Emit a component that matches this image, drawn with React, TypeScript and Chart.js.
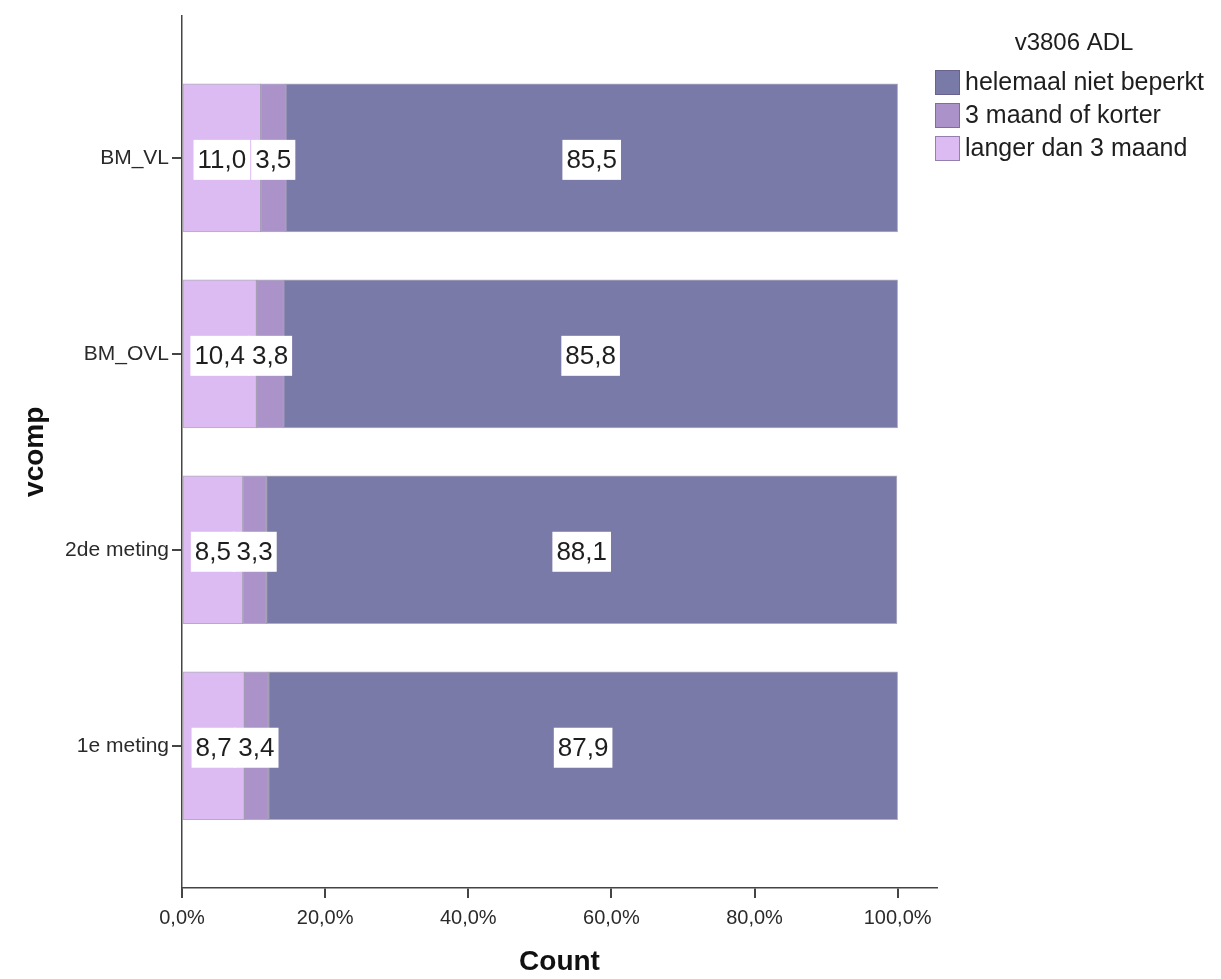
import React, { useEffect, useRef } from 'react';
import { Chart, registerables } from 'chart.js';

Chart.register(...registerables);

// ---- data ----
const categories = ['BM_VL', 'BM_OVL', '2de meting', '1e meting'];
const seriesNames = ['langer dan 3 maand', '3 maand of korter', 'helemaal niet beperkt'];
const langerDan3 = [11.0, 10.4, 8.5, 8.7];
const maand3OfKorter = [3.5, 3.8, 3.3, 3.4];
const helemaalNiet = [85.5, 85.8, 88.1, 87.9];
const xTickValues = [0, 20, 40, 60, 80, 100];
const legendTitle = 'v3806 ADL';
const yTitle = 'vcomp';
const xTitle = 'Count';

const seriesColors = ['#dcbaf2', '#ab92c9', '#7a7aa9'];
const FONT = '"Liberation Sans", Arial, sans-serif';

const fmt = (v: number) => v.toFixed(1).replace('.', ',');

const segLabels = {
  id: 'segLabels',
  afterDatasetsDraw(chart: any) {
    const ctx = chart.ctx;
    ctx.save();
    ctx.font = `26px ${FONT}`;
    ctx.textAlign = 'center';
    ctx.textBaseline = 'middle';
    chart.data.datasets.forEach((ds: any, di: number) => {
      const meta = chart.getDatasetMeta(di);
      meta.data.forEach((el: any, i: number) => {
        const v = ds.data[i].x;
        const { x, y, base } = el.getProps(['x', 'y', 'base'], true);
        const cx = (x + base) / 2;
        const txt = fmt(v);
        const w = ctx.measureText(txt).width + 8;
        const h = 40;
        ctx.fillStyle = '#ffffff';
        ctx.fillRect(cx - w / 2, y - h / 2 + 2, w, h);
        ctx.fillStyle = '#1e1e1e';
        ctx.fillText(txt, cx, y + 3);
      });
    });
    ctx.restore();
  },
};

const sideLegend = {
  id: 'sideLegend',
  afterDraw(chart: any) {
    const ctx = chart.ctx;
    const left = chart.chartArea.right - 2;
    ctx.save();
    ctx.fillStyle = '#1e1e1e';
    ctx.font = `24px ${FONT}`;
    ctx.textAlign = 'center';
    ctx.textBaseline = 'middle';
    ctx.fillText(legendTitle, left + 139, 43);
    ctx.textAlign = 'left';
    ctx.font = `25px ${FONT}`;
    const n = chart.data.datasets.length;
    for (let k = 0; k < n; k++) {
      const di = n - 1 - k;
      const ds = chart.data.datasets[di];
      const top = 70 + k * 33;
      ctx.fillStyle = ds.backgroundColor;
      ctx.fillRect(left, top, 25, 25);
      ctx.strokeStyle = 'rgba(90,80,120,0.55)';
      ctx.lineWidth = 1;
      ctx.strokeRect(left + 0.5, top + 0.5, 24, 24);
      ctx.fillStyle = '#1e1e1e';
      ctx.fillText(ds.label, left + 30, top + 13);
    }
    ctx.restore();
  },
};

export default function App() {
  const ref = useRef<HTMLCanvasElement>(null);

  useEffect(() => {
    document.body.style.margin = '0';
    const canvas = ref.current;
    if (!canvas) return;
    const series = [langerDan3, maand3OfKorter, helemaalNiet];
    const chart = new Chart(canvas, {
      type: 'bar',
      data: {
        datasets: series.map((vals, si) => ({
          label: seriesNames[si],
          data: vals.map((v, i) => ({ x: v, y: i })),
          backgroundColor: seriesColors[si],
          borderColor: 'rgba(85,75,115,0.45)',
          borderWidth: 1,
          borderSkipped: false,
          barThickness: 148,
        })),
      },
      options: {
        indexAxis: 'y',
        animation: false,
        responsive: false,
        devicePixelRatio: 1,
        layout: { padding: { top: 13, right: 284, bottom: 0, left: 0 } },
        plugins: {
          legend: { display: false },
          tooltip: { enabled: false },
        },
        scales: {
          x: {
            type: 'linear',
            stacked: true,
            min: 0,
            max: 105.5,
            afterBuildTicks: (scale: any) => {
              scale.ticks = xTickValues.map((v) => ({ value: v }));
            },
            afterFit: (scale: any) => {
              scale.height = 91;
            },
            border: { display: true, color: '#444', width: 1.5 },
            grid: { drawOnChartArea: false, drawTicks: true, tickLength: 10, color: '#444', lineWidth: 2 },
            ticks: {
              autoSkip: false,
              maxRotation: 0,
              padding: 8,
              color: '#2a2a2a',
              font: { family: FONT, size: 20 },
              callback: (v: any) => fmt(Number(v)) + '%',
            },
            title: {
              display: true,
              text: xTitle,
              color: '#111',
              font: { family: FONT, size: 28, weight: 'bold' },
              padding: { top: 0, bottom: 0 },
            },
          },
          y: {
            type: 'linear',
            stacked: true,
            reverse: true,
            offset: false,
            min: -0.726,
            max: 3.726,
            afterBuildTicks: (scale: any) => {
              scale.ticks = categories.map((_, i) => ({ value: i }));
            },
            afterFit: (scale: any) => {
              scale.width = 182;
            },
            border: { display: true, color: '#444', width: 1.5 },
            grid: { offset: false, drawOnChartArea: false, drawTicks: true, tickLength: 10, color: '#444', lineWidth: 2 },
            ticks: {
              autoSkip: false,
              padding: 3,
              color: '#2a2a2a',
              font: { family: FONT, size: 21 },
              callback: (v: any) => categories[Number(v)] ?? '',
            },
            title: {
              display: true,
              text: yTitle,
              color: '#111',
              font: { family: FONT, size: 28, weight: 'bold' },
              padding: { top: 18, bottom: 0 },
            },
          },
        },
      },
      plugins: [segLabels, sideLegend],
    } as any);
    return () => chart.destroy();
  }, []);

  return (
    <div style={{ width: 1221, height: 979, background: '#fff' }}>
      <canvas ref={ref} width={1221} height={979} />
    </div>
  );
}
